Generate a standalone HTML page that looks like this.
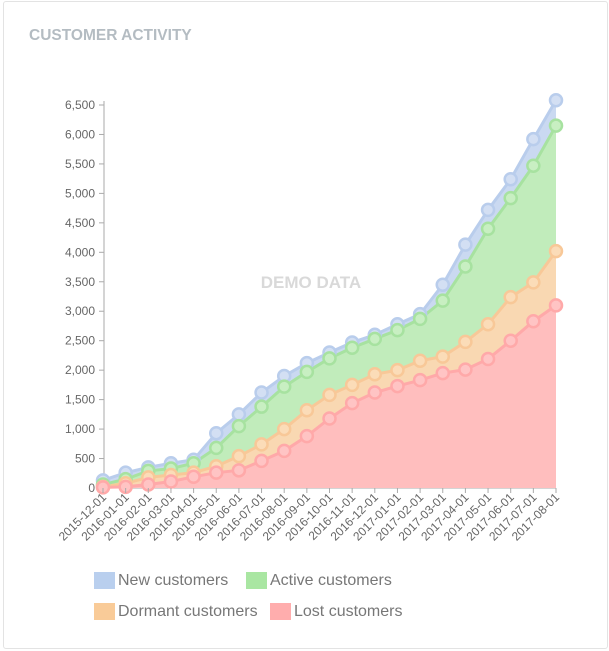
<!DOCTYPE html>
<html><head><meta charset="utf-8"><style>
body{margin:0;width:609px;height:651px;background:#fff;font-family:"Liberation Sans",sans-serif;overflow:hidden}
.card{position:absolute;left:3px;top:1px;width:603px;height:646px;border:1px solid #e3e3e3;border-radius:3px}
.title{position:absolute;left:29px;top:27px;font-size:15.5px;font-weight:bold;color:#b4bcc2}
.lg{position:absolute;font-size:16px;color:#777}
.sw{position:absolute;width:21px;height:17px}
</style></head><body>
<div class="card"></div>
<div class="title">CUSTOMER ACTIVITY</div>
<svg id="c" width="609" height="651" style="position:absolute;left:0;top:0"></svg>
<div class="sw" style="left:94px;top:572px;background:#b9cfee"></div><div class="lg" style="left:118px;top:572px">New customers</div>
<div class="sw" style="left:246px;top:572px;background:#a9e6a2"></div><div class="lg" style="left:270px;top:572px">Active customers</div>
<div class="sw" style="left:94px;top:603px;background:#f9cb98"></div><div class="lg" style="left:118px;top:603px">Dormant customers</div>
<div class="sw" style="left:270px;top:603px;background:#ffadad"></div><div class="lg" style="left:294px;top:603px">Lost customers</div>
<script>
const S=[
{d:[130,260,350,420,480,930,1250,1620,1900,2120,2300,2470,2600,2780,2950,3450,4130,4720,5240,5920,6580],a:"#cad9f1",l:"#b9cdec",f:"#d3dff3"},
{d:[60,150,290,330,420,680,1050,1380,1720,1970,2200,2380,2530,2680,2870,3180,3760,4400,4920,5470,6150],a:"#c1ecbb",l:"#a7e2a0",f:"#c8efc2"},
{d:[20,80,180,220,260,370,540,740,1000,1320,1580,1750,1930,2000,2160,2230,2480,2780,3240,3490,4020],a:"#f9d8b2",l:"#f8c898",f:"#fbdcb8"},
{d:[10,20,60,110,190,260,300,460,630,880,1180,1440,1620,1730,1830,1950,2010,2190,2500,2830,3100],a:"#ffbebe",l:"#ffa9a9",f:"#ffc4c4"}];
const X=i=>103+i*22.65,Y=v=>488-v*383/6500;
let h='';
for(let v=0;v<=6500;v+=500){const y=Y(v);h+=`<line x1="99" x2="104" y1="${y}" y2="${y}" stroke="#aaa"/><text x="95" y="${y+4}" text-anchor="end" font-size="12" fill="#666">${v.toLocaleString('en-US')}</text>`;}
h+=`<line x1="104" x2="104" y1="101" y2="488" stroke="#aaa"/><line x1="103" x2="556" y1="488" y2="488" stroke="#aaa"/>`;
const dates=[];for(let i=0;i<21;i++){let m=11+i,yr=2015+Math.floor(m/12);m=m%12+1;dates.push(`${yr}-${String(m).padStart(2,'0')}-01`);}
S.forEach(s=>{let p=s.d.map((v,i)=>`${X(i)},${Y(v)}`).join(' ');h+=`<polygon points="${X(0)},488 ${p} ${X(20)},488" fill="${s.a}"/><polyline points="${p}" fill="none" stroke="${s.l}" stroke-width="3"/>`;});
S.forEach(s=>{s.d.forEach((v,i)=>{h+=`<circle cx="${X(i)}" cy="${Y(v)}" r="6" fill="${s.f}" stroke="${s.l}" stroke-width="2.5"/>`;});});
dates.forEach((d,i)=>{const x=X(i);h+=`<line x1="${x}" x2="${x}" y1="488" y2="493" stroke="#aaa"/><text transform="translate(${x+4},${498}) rotate(-45)" text-anchor="end" font-size="12" fill="#666">${d}</text>`;});
h+=`<text x="311" y="288" text-anchor="middle" font-size="17" font-weight="bold" fill="#d9d9d9">DEMO DATA</text>`;
document.getElementById('c').innerHTML=h;
</script>
</body></html>
